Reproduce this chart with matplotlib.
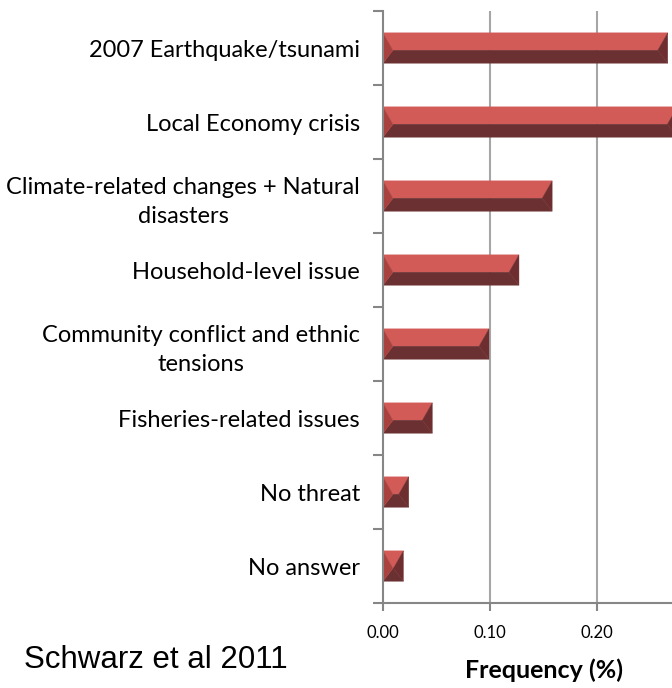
import matplotlib.pyplot as plt
from matplotlib.patches import Polygon

# data
categories = [
    "2007 Earthquake/tsunami",
    "Local Economy crisis",
    "Climate-related changes + Natural\ndisasters",
    "Household-level issue",
    "Community conflict and ethnic\ntensions",
    "Fisheries-related issues",
    "No threat",
    "No answer",
]
frequency = [0.266, 0.275, 0.158, 0.127, 0.099, 0.046, 0.024, 0.019]
xticks = [0.0, 0.1, 0.2]

LIGHT = "#D35B57"
MID = "#A9423F"
DARK = "#6B3132"
DARKER = "#6E2E2F"

fig = plt.figure(figsize=(6.72, 6.88), dpi=100)
ax = fig.add_axes([0.570, 0.1235, 0.43, 0.8605])

n = len(categories)
ax.set_xlim(0, 0.27)
ax.set_ylim(n, 0)

# bevelled bars, drawn as four faces each
h = 0.41
bx_full = 0.0093
for i, v in enumerate(frequency):
    c = i + 0.5
    top, bot, mid = c - h / 2, c + h / 2, c + 0.03
    bx = min(bx_full, v / 2)
    faces = [
        ([(0, top), (v, top), (v - bx, mid), (bx, mid)], LIGHT),
        ([(0, bot), (bx, mid), (v - bx, mid), (v, bot)], DARK),
        ([(0, top), (bx, mid), (0, bot)], MID),
        ([(v, top), (v, bot), (v - bx, mid)], DARKER),
    ]
    for pts, col in faces:
        ax.add_patch(Polygon(pts, closed=True, facecolor=col, edgecolor=col,
                             linewidth=0.3, zorder=3))

# grid and spines
for x in xticks[1:]:
    ax.axvline(x, color="#A6A6A6", linewidth=1.5, zorder=1)
for s in ["top", "right"]:
    ax.spines[s].set_visible(False)
for s in ["left", "bottom"]:
    ax.spines[s].set_color("#868686")
    ax.spines[s].set_linewidth(1.5)
    ax.spines[s].set_zorder(4)

ax.set_xticks(xticks)
ax.set_xticklabels([f"{x:.2f}" for x in xticks], fontsize=12, family="Lato")
ax.tick_params(axis="x", length=6, width=1.5, color="#868686", pad=10)

ax.set_yticks([i + 0.5 for i in range(n)])
ax.set_yticklabels(categories, fontsize=17, family="Lato",
                   multialignment="center", linespacing=1.45)
ax.tick_params(axis="y", which="major", length=0, pad=16.5)
ax.set_yticks(list(range(n + 1)), minor=True)
ax.tick_params(axis="y", which="minor", length=7, width=1.5, color="#868686")

fig.text(0.810, 0.026, "Frequency (%)", fontsize=18, fontweight="bold",
         family="Lato", ha="center", va="center")
fig.text(0.036, 0.041, "Schwarz et al 2011", fontsize=22.5,
         family="Liberation Sans", ha="left", va="center")

fig.savefig("out.png", dpi=100)
